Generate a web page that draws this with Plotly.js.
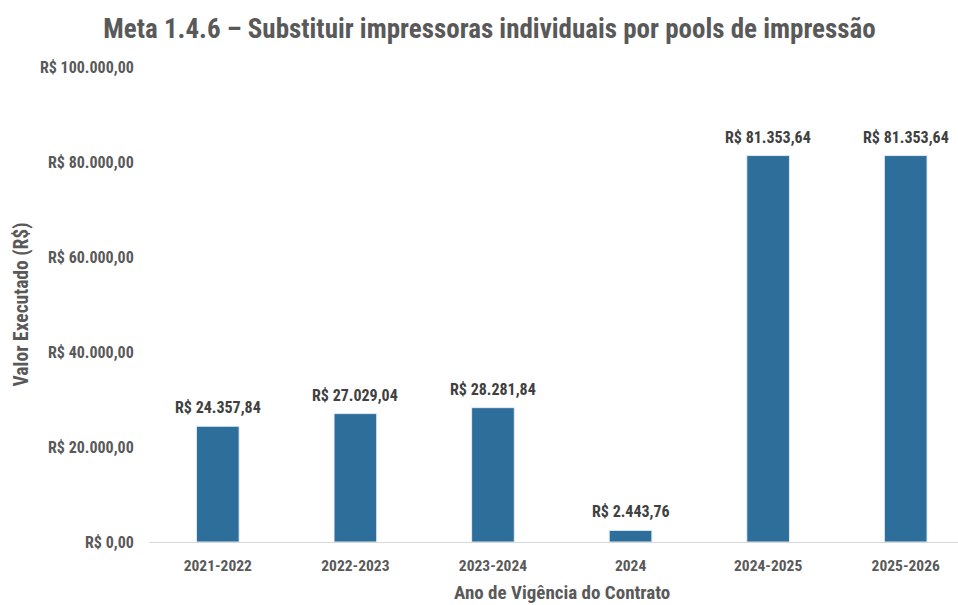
<!DOCTYPE html>
<html>
<head>
<meta charset="utf-8">
<script src="https://cdn.plot.ly/plotly-3.0.1.min.js"></script>
<style>
html,body{margin:0;padding:0;background:#fff;}
#chart{width:958px;height:605px;}
</style>
</head>
<body>
<div id="chart"></div>
<script>
const categories = ["2021-2022", "2022-2023", "2023-2024", "2024", "2024-2025", "2025-2026"];
const values = [24357.84, 27029.04, 28281.84, 2443.76, 81353.64, 81353.64];
const tickValues = [0, 20000, 40000, 60000, 80000, 100000];

function brl(v) {
  const parts = v.toFixed(2).split(".");
  const intPart = parts[0].replace(/\B(?=(\d{3})+(?!\d))/g, ".");
  return "R$ " + intPart + "," + parts[1];
}
const labels = values.map(brl);
const tickText = tickValues.map(brl);

const FONT = "'Liberation Sans Narrow', 'Arial Narrow', 'Roboto Condensed', 'Liberation Sans', Arial, sans-serif";

const trace = {
  type: "bar",
  x: categories,
  y: values,
  marker: {color: "#2d6f9a", line: {color: "rgba(230,240,248,0.9)", width: 1}},
  hoverinfo: "x+y"
};

// category axis: annotation x given as the category's position index
const labelAnnotations = categories.map((c, i) => ({
  x: i, y: values[i], xref: "x", yref: "y",
  text: "<b>" + labels[i] + "</b>",
  showarrow: false,
  xanchor: "center", yanchor: "bottom",
  yshift: 7,
  font: {family: FONT, size: 16, color: "#404040"}
}));

const layout = {
  width: 958,
  height: 605,
  margin: {l: 149, r: 0, t: 67, b: 63},
  paper_bgcolor: "#ffffff",
  plot_bgcolor: "#ffffff",
  showlegend: false,
  bargap: 0.69,
  title: {
    text: "<b>Meta 1.4.6 – Substituir impressoras individuais por pools de impressão</b>",
    font: {family: FONT, size: 27, color: "#595959"},
    x: 0.511, xanchor: "center",
    y: 0.953, yanchor: "middle"
  },
  xaxis: {
    type: "category",
    range: [-0.5, 5.38],
    showgrid: false,
    zeroline: false,
    showline: true,
    linecolor: "#d9d9d9",
    linewidth: 1,
    ticks: "outside",
    ticklen: 9,
    tickcolor: "rgba(0,0,0,0)",
    tickfont: {family: FONT, size: 15.5, color: "#595959", weight: "bold"},
    fixedrange: true
  },
  yaxis: {
    range: [0, 100000],
    tickvals: tickValues,
    ticktext: tickText,
    showgrid: false,
    zeroline: false,
    showline: false,
    ticks: "outside",
    ticklen: 11,
    tickcolor: "rgba(0,0,0,0)",
    tickfont: {family: FONT, size: 16, color: "#595959", weight: "bold"},
    title: {text: "<b>Valor Executado (R$)</b>", font: {family: FONT, size: 19.5, color: "#595959"}, standoff: 6},
    fixedrange: true
  },
  annotations: labelAnnotations.concat([{
    text: "<b>Ano de Vigência do Contrato</b>",
    xref: "paper", yref: "paper",
    x: (562 - 149) / 809, y: -0.106,
    xanchor: "center", yanchor: "middle",
    showarrow: false,
    font: {family: FONT, size: 19, color: "#595959"}
  }])
};

Plotly.newPlot("chart", [trace], layout, {displayModeBar: false, staticPlot: true});
</script>
</body>
</html>
